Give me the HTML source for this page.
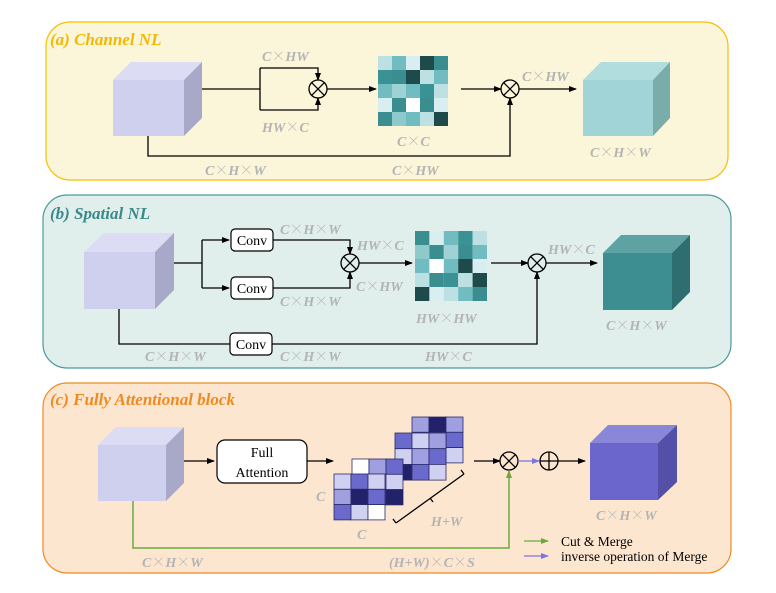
<!DOCTYPE html>
<html><head><meta charset="utf-8"><style>
html,body{margin:0;padding:0;background:#fff;}
svg{display:block;}
.l{font-family:"Liberation Serif",serif;font-style:italic;font-weight:bold;font-size:14px;fill:#b4b4b4;}
.x{font-family:"Noto Serif CJK SC","Noto Sans CJK SC",serif;font-style:normal;font-weight:normal;}
.t{font-family:"Liberation Serif",serif;font-style:italic;font-weight:bold;font-size:17px;}
.n{font-family:"Liberation Serif",serif;font-size:14px;fill:#000;}
</style></head><body>
<svg width="776" height="593" viewBox="0 0 776 593" xmlns="http://www.w3.org/2000/svg">
<defs>
<marker id="ar" markerWidth="8" markerHeight="8" refX="7" refY="4" orient="auto" markerUnits="userSpaceOnUse"><path d="M0,1 L8,4 L0,7 z" fill="#000"/></marker>
<marker id="ag" markerWidth="8" markerHeight="8" refX="7" refY="4" orient="auto" markerUnits="userSpaceOnUse"><path d="M0,1 L8,4 L0,7 z" fill="#6aaa3a"/></marker>
<marker id="ab" markerWidth="8" markerHeight="8" refX="7" refY="4" orient="auto" markerUnits="userSpaceOnUse"><path d="M0,1 L8,4 L0,7 z" fill="#7a76dd"/></marker>
</defs>

<!-- Panel A -->
<rect x="46" y="22" width="682" height="158" rx="24" fill="#fbf5d9" stroke="#f5c000" stroke-width="1.2"/>
<text x="50" y="45" class="t" fill="#f5b800">(a) Channel NL</text>
<polygon points="113,80 131,62 202,62 184,80" fill="#dcdcf4"/>
<rect x="113" y="80" width="71" height="56" fill="#cfcfee"/>
<polygon points="184,80 202,62 202,118 184,136" fill="#a8a8c8"/>
<g stroke="#000" stroke-width="1.3" fill="none">
<path d="M202,89 H260"/>
<path d="M260,68 V110"/>
<path d="M260,68 H318 V80" marker-end="url(#ar)"/>
<path d="M260,110 H318 V98" marker-end="url(#ar)"/>
<circle cx="318" cy="89" r="9"/><path d="M311.6,82.6 L324.4,95.4 M324.4,82.6 L311.6,95.4"/>
<path d="M327,89 H376" marker-end="url(#ar)"/>
<path d="M461,89 H501" marker-end="url(#ar)"/>
<circle cx="510" cy="89" r="9"/><path d="M503.6,82.6 L516.4,95.4 M516.4,82.6 L503.6,95.4"/>
<path d="M519,89 H576" marker-end="url(#ar)"/>
<path d="M148,136 V156 H510 V98" marker-end="url(#ar)"/>
</g>
<g>
<rect x="378" y="56" width="14" height="14" fill="#bde0e2"/><rect x="392" y="56" width="14" height="14" fill="#70bcc0"/><rect x="406" y="56" width="14" height="14" fill="#d8eef0"/><rect x="420" y="56" width="14" height="14" fill="#1f4a4c"/><rect x="434" y="56" width="14" height="14" fill="#3a8e90"/>
<rect x="378" y="70" width="14" height="14" fill="#3a9294"/><rect x="392" y="70" width="14" height="14" fill="#3a8e90"/><rect x="406" y="70" width="14" height="14" fill="#1f4a4c"/><rect x="420" y="70" width="14" height="14" fill="#bde0e2"/><rect x="434" y="70" width="14" height="14" fill="#70bcc0"/>
<rect x="378" y="84" width="14" height="14" fill="#70bcc0"/><rect x="392" y="84" width="14" height="14" fill="#9ed2d4"/><rect x="406" y="84" width="14" height="14" fill="#70bcc0"/><rect x="420" y="84" width="14" height="14" fill="#3a9294"/><rect x="434" y="84" width="14" height="14" fill="#bde0e2"/>
<rect x="378" y="98" width="14" height="14" fill="#d8eef0"/><rect x="392" y="98" width="14" height="14" fill="#3a8e90"/><rect x="406" y="98" width="14" height="14" fill="#ffffff"/><rect x="420" y="98" width="14" height="14" fill="#3a8e90"/><rect x="434" y="98" width="14" height="14" fill="#d8eef0"/>
<rect x="378" y="112" width="14" height="14" fill="#3a8e90"/><rect x="392" y="112" width="14" height="14" fill="#8ecacc"/><rect x="406" y="112" width="14" height="14" fill="#70bcc0"/><rect x="420" y="112" width="14" height="14" fill="#bde0e2"/><rect x="434" y="112" width="14" height="14" fill="#1f4a4c"/>
</g>
<polygon points="583,80 601,62 670,62 653,80" fill="#b2dddf"/>
<rect x="583" y="80" width="70" height="56" fill="#a0d4d6"/>
<polygon points="653,80 670,62 670,118 653,136" fill="#7aacaa"/>
<text x="262" y="61" class="l">C<tspan class="x">×</tspan>HW</text>
<text x="262" y="132" class="l">HW<tspan class="x">×</tspan>C</text>
<text x="397" y="146" class="l">C<tspan class="x">×</tspan>C</text>
<text x="522" y="81" class="l">C<tspan class="x">×</tspan>HW</text>
<text x="590" y="157" class="l">C<tspan class="x">×</tspan>H<tspan class="x">×</tspan>W</text>
<text x="205" y="175" class="l">C<tspan class="x">×</tspan>H<tspan class="x">×</tspan>W</text>
<text x="392" y="175" class="l">C<tspan class="x">×</tspan>HW</text>

<!-- Panel B -->
<rect x="43" y="195" width="688" height="173" rx="24" fill="#e0eeec" stroke="#4a9a9a" stroke-width="1.2"/>
<text x="50" y="219" class="t" fill="#3a8a8a">(b) Spatial NL</text>
<polygon points="84,252 104,233 174,233 155,252" fill="#dcdcf4"/>
<rect x="84" y="252" width="71" height="57" fill="#cfcfee"/>
<polygon points="155,252 174,233 174,290 155,309" fill="#a8a8c8"/>
<g stroke="#000" stroke-width="1.3" fill="none">
<path d="M174,263 H202"/>
<path d="M202,240 V288"/>
<path d="M202,240 H229" marker-end="url(#ar)"/>
<path d="M202,288 H229" marker-end="url(#ar)"/>
<path d="M273,240 H350 V254" marker-end="url(#ar)"/>
<path d="M273,288 H350 V272" marker-end="url(#ar)"/>
<circle cx="350" cy="263" r="9"/><path d="M343.6,256.6 L356.4,269.4 M356.4,256.6 L343.6,269.4"/>
<path d="M359,263 H412" marker-end="url(#ar)"/>
<path d="M491,263 H528" marker-end="url(#ar)"/>
<circle cx="537" cy="263" r="9"/><path d="M530.6,256.6 L543.4,269.4 M543.4,256.6 L530.6,269.4"/>
<path d="M546,263 H597" marker-end="url(#ar)"/>
<path d="M119,309 V344 H230"/>
<path d="M272,344 H537 V272" marker-end="url(#ar)"/>
</g>
<g stroke="#000" stroke-width="1.2" fill="#fff">
<rect x="231" y="229" width="42" height="22" rx="4"/>
<rect x="231" y="277" width="42" height="22" rx="4"/>
<rect x="230" y="333" width="42" height="22" rx="4"/>
</g>
<text x="252" y="245" class="n" text-anchor="middle">Conv</text>
<text x="252" y="293" class="n" text-anchor="middle">Conv</text>
<text x="251" y="349" class="n" text-anchor="middle">Conv</text>
<g>
<rect x="415" y="231" width="14.4" height="14" fill="#3a8e90"/><rect x="429.4" y="231" width="14.4" height="14" fill="#d8eef0"/><rect x="443.8" y="231" width="14.4" height="14" fill="#70bcc0"/><rect x="458.2" y="231" width="14.4" height="14" fill="#3a9294"/><rect x="472.6" y="231" width="14.4" height="14" fill="#bde0e2"/>
<rect x="415" y="245" width="14.4" height="14" fill="#8ecacc"/><rect x="429.4" y="245" width="14.4" height="14" fill="#3a8e90"/><rect x="443.8" y="245" width="14.4" height="14" fill="#9ed2d4"/><rect x="458.2" y="245" width="14.4" height="14" fill="#3a8e90"/><rect x="472.6" y="245" width="14.4" height="14" fill="#70bcc0"/>
<rect x="415" y="259" width="14.4" height="14" fill="#70bcc0"/><rect x="429.4" y="259" width="14.4" height="14" fill="#ffffff"/><rect x="443.8" y="259" width="14.4" height="14" fill="#70bcc0"/><rect x="458.2" y="259" width="14.4" height="14" fill="#1f4a4c"/><rect x="472.6" y="259" width="14.4" height="14" fill="#d8eef0"/>
<rect x="415" y="273" width="14.4" height="14" fill="#bde0e2"/><rect x="429.4" y="273" width="14.4" height="14" fill="#3a8e90"/><rect x="443.8" y="273" width="14.4" height="14" fill="#3a9294"/><rect x="458.2" y="273" width="14.4" height="14" fill="#bde0e2"/><rect x="472.6" y="273" width="14.4" height="14" fill="#1f4a4c"/>
<rect x="415" y="287" width="14.4" height="14" fill="#1f4a4c"/><rect x="429.4" y="287" width="14.4" height="14" fill="#d8eef0"/><rect x="443.8" y="287" width="14.4" height="14" fill="#bde0e2"/><rect x="458.2" y="287" width="14.4" height="14" fill="#70bcc0"/><rect x="472.6" y="287" width="14.4" height="14" fill="#3a8e90"/>
</g>
<polygon points="603,253 621,235 690,235 672,253" fill="#5fa2a4"/>
<rect x="603" y="253" width="69" height="57" fill="#3d8e90"/>
<polygon points="672,253 690,235 690,292 672,310" fill="#2e6e70"/>
<text x="280" y="234" class="l">C<tspan class="x">×</tspan>H<tspan class="x">×</tspan>W</text>
<text x="357" y="250" class="l">HW<tspan class="x">×</tspan>C</text>
<text x="356" y="291" class="l">C<tspan class="x">×</tspan>HW</text>
<text x="280" y="306" class="l">C<tspan class="x">×</tspan>H<tspan class="x">×</tspan>W</text>
<text x="416" y="323" class="l">HW<tspan class="x">×</tspan>HW</text>
<text x="548" y="254" class="l">HW<tspan class="x">×</tspan>C</text>
<text x="606" y="330" class="l">C<tspan class="x">×</tspan>H<tspan class="x">×</tspan>W</text>
<text x="145" y="361" class="l">C<tspan class="x">×</tspan>H<tspan class="x">×</tspan>W</text>
<text x="280" y="361" class="l">C<tspan class="x">×</tspan>H<tspan class="x">×</tspan>W</text>
<text x="425" y="361" class="l">HW<tspan class="x">×</tspan>C</text>

<!-- Panel C -->
<rect x="43" y="383" width="688" height="190" rx="24" fill="#fde6d0" stroke="#f08a20" stroke-width="1.2"/>
<text x="50" y="405" class="t" fill="#f08a20">(c) Fully Attentional block</text>
<polygon points="98,445 116,427 184,427 166,445" fill="#dcdcf4"/>
<rect x="98" y="445" width="68" height="56" fill="#cfcfee"/>
<polygon points="166,445 184,427 184,483 166,501" fill="#a8a8c8"/>
<g stroke="#000" stroke-width="1.3" fill="none">
<path d="M184,461 H214" marker-end="url(#ar)"/>
<path d="M307,461 H333" marker-end="url(#ar)"/>
<path d="M474,461 H500" marker-end="url(#ar)"/>
<circle cx="509" cy="461" r="9"/><path d="M502.6,454.6 L515.4,467.4 M515.4,454.6 L502.6,467.4"/>
<circle cx="549" cy="461" r="9"/><path d="M540,461 H558 M549,452 V470"/>
<path d="M558,461 H585" marker-end="url(#ar)"/>
<path d="M396,523 L464,474 M396,523 l-3,-4 M464,474 l-3,-4 M430,498 l3,4"/>
</g>
<path d="M518,461 H539" stroke="#7a76dd" stroke-width="1.3" marker-end="url(#ab)"/>
<path d="M133,501 V548 H509 V471" stroke="#6aaa3a" stroke-width="1.5" fill="none" marker-end="url(#ag)"/>
<rect x="217" y="440" width="90" height="43" rx="8" fill="#fff" stroke="#000" stroke-width="1.2"/>
<text x="262" y="457" class="n" text-anchor="middle">Full</text>
<text x="262" y="477" class="n" text-anchor="middle">Attention</text>
<g stroke="#2a2a6a" stroke-width="0.8">
<g>
<rect x="412" y="417" width="17" height="15.3" fill="#a0a0e0"/><rect x="429" y="417" width="17" height="15.3" fill="#22226a"/><rect x="446" y="417" width="17" height="15.3" fill="#a0a0e0"/>
<rect x="412" y="432.3" width="17" height="15.3" fill="#6a6acc"/><rect x="429" y="432.3" width="17" height="15.3" fill="#a0a0e0"/><rect x="446" y="432.3" width="17" height="15.3" fill="#6a6acc"/>
<rect x="412" y="447.6" width="17" height="15.3" fill="#d0d0f0"/><rect x="429" y="447.6" width="17" height="15.3" fill="#d0d0f0"/><rect x="446" y="447.6" width="17" height="15.3" fill="#d0d0f0"/>
</g>
<g>
<rect x="395" y="433" width="17" height="15.7" fill="#6a6acc"/><rect x="412" y="433" width="17" height="15.7" fill="#d0d0f0"/><rect x="429" y="433" width="17" height="15.7" fill="#a0a0e0"/>
<rect x="395" y="448.7" width="17" height="15.7" fill="#d0d0f0"/><rect x="412" y="448.7" width="17" height="15.7" fill="#a0a0e0"/><rect x="429" y="448.7" width="17" height="15.7" fill="#6a6acc"/>
<rect x="395" y="464.4" width="17" height="15.7" fill="#22226a"/><rect x="412" y="464.4" width="17" height="15.7" fill="#6a6acc"/><rect x="429" y="464.4" width="17" height="15.7" fill="#d0d0f0"/>
</g>
<g>
<rect x="352" y="459" width="17" height="15.3" fill="#ffffff"/><rect x="369" y="459" width="17" height="15.3" fill="#a0a0e0"/><rect x="386" y="459" width="17" height="15.3" fill="#6a6acc"/>
<rect x="352" y="474.3" width="17" height="15.3" fill="#6a6acc"/><rect x="369" y="474.3" width="17" height="15.3" fill="#d0d0f0"/><rect x="386" y="474.3" width="17" height="15.3" fill="#d0d0f0"/>
<rect x="352" y="489.6" width="17" height="15.3" fill="#22226a"/><rect x="369" y="489.6" width="17" height="15.3" fill="#6a6acc"/><rect x="386" y="489.6" width="17" height="15.3" fill="#22226a"/>
</g>
<g>
<rect x="334" y="474" width="17" height="15.3" fill="#d0d0f0"/><rect x="351" y="474" width="17" height="15.3" fill="#6a6acc"/><rect x="368" y="474" width="17" height="15.3" fill="#d0d0f0"/>
<rect x="334" y="489.3" width="17" height="15.3" fill="#a0a0e0"/><rect x="351" y="489.3" width="17" height="15.3" fill="#22226a"/><rect x="368" y="489.3" width="17" height="15.3" fill="#6a6acc"/>
<rect x="334" y="504.6" width="17" height="15.3" fill="#6a6acc"/><rect x="351" y="504.6" width="17" height="15.3" fill="#d0d0f0"/><rect x="368" y="504.6" width="17" height="15.3" fill="#ffffff"/>
</g>
</g>
<polygon points="590,443 608,425 677,425 658,443" fill="#8a86d8"/>
<rect x="590" y="443" width="68" height="57" fill="#6a66cc"/>
<polygon points="658,443 677,425 677,482 658,500" fill="#5450a8"/>
<text x="316" y="501" class="l">C</text>
<text x="357" y="539" class="l">C</text>
<text x="431" y="526" class="l">H+W</text>
<text x="596" y="520" class="l">C<tspan class="x">×</tspan>H<tspan class="x">×</tspan>W</text>
<text x="142" y="567" class="l">C<tspan class="x">×</tspan>H<tspan class="x">×</tspan>W</text>
<text x="389" y="567" class="l">(H+W)<tspan class="x">×</tspan>C<tspan class="x">×</tspan>S</text>
<path d="M524,541 H548" stroke="#6aaa3a" stroke-width="1.3" marker-end="url(#ag)"/>
<path d="M524,556 H548" stroke="#7a76dd" stroke-width="1.3" marker-end="url(#ab)"/>
<text x="561" y="546" class="n" style="font-size:13.5px">Cut &amp; Merge</text>
<text x="561" y="561" class="n" style="font-size:13.5px">inverse operation of Merge</text>
</svg>
</body></html>
